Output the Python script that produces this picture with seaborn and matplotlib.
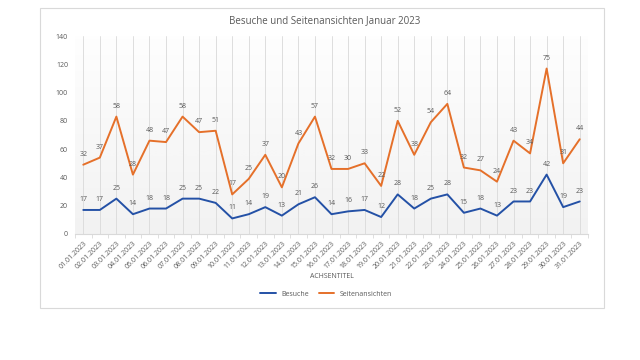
import numpy as np
import pandas as pd
import seaborn as sns
import matplotlib.pyplot as plt
from matplotlib.patches import Rectangle

tage = ['%02d.01.2023' % d for d in range(1, 32)]
besuche = [17, 17, 25, 14, 18, 18, 25, 25, 22, 11, 14, 19, 13, 21, 26, 14,
           16, 17, 12, 28, 18, 25, 28, 15, 18, 13, 23, 23, 42, 19, 23]
seitenansichten = [32, 37, 58, 28, 48, 47, 58, 47, 51, 17, 25, 37, 20, 43, 57, 32,
                   30, 33, 22, 52, 38, 54, 64, 32, 27, 24, 43, 34, 75, 31, 44]

df = pd.DataFrame({'Tag': tage, 'Besuche': besuche, 'Seitenansichten': seitenansichten})
# gestapelte Linie wie im Excel-Diagramm
df['Gestapelt'] = df['Besuche'] + df['Seitenansichten']
df['pos'] = range(len(df))

sns.set_style('white')
plt.rcParams['font.family'] = ['Open Sans', 'DejaVu Sans']

blau = '#2451a6'
orange = '#e5702a'
grau = '#595959'

fig = plt.figure(figsize=(6.4, 3.6), dpi=100)
fig.patches.append(Rectangle((40 / 640, 1 - 308 / 360), 564 / 640, 300 / 360,
                             transform=fig.transFigure, facecolor='white',
                             edgecolor='#d9d9d9', lw=0.8, zorder=-5))
ax = fig.add_axes([75 / 640, 1 - 234 / 360, 513 / 640, 198 / 360])
ax.patch.set_alpha(0)

# Hintergrund-Verlauf
grad = np.linspace(1, 0, 100).reshape(-1, 1)
ax.imshow(grad, extent=(-0.5, 30.5, 0, 140), aspect='auto', cmap='Greys',
          vmin=-0.1, vmax=10, origin='lower', zorder=0)

for i in df['pos']:
    ax.axvline(i, color='#d9d9d9', lw=0.6, zorder=1)

sns.lineplot(data=df, x='pos', y='Besuche', ax=ax, color=blau, lw=1.4,
             label='Besuche', sort=False, zorder=3)
sns.lineplot(data=df, x='pos', y='Gestapelt', ax=ax, color=orange, lw=1.4,
             label='Seitenansichten', sort=False, zorder=3)

for i, row in df.iterrows():
    ax.annotate(str(row['Besuche']), (row['pos'], row['Besuche']), xytext=(0, 5),
                textcoords='offset points', ha='center', va='bottom', fontsize=5, color=grau)
    ax.annotate(str(row['Seitenansichten']), (row['pos'], row['Gestapelt']), xytext=(0, 5),
                textcoords='offset points', ha='center', va='bottom', fontsize=5, color=grau)

ax.set_xlim(-0.5, 30.5)
ax.set_ylim(0, 140)
ax.set_yticks(range(0, 141, 20))
ax.set_xticks(df['pos'])
ax.set_xticks(np.arange(-0.5, 31, 1), minor=True)
ax.set_xticklabels(tage, rotation=45, ha='right', rotation_mode='anchor')
ax.tick_params(axis='x', which='major', labelsize=5, colors=grau, length=0, pad=4)
ax.tick_params(axis='x', which='minor', bottom=True, length=3, width=0.6, color='#d9d9d9')
ax.tick_params(axis='y', labelsize=5, colors=grau, length=0, pad=5)
for s in ['top', 'right', 'left']:
    ax.spines[s].set_visible(False)
ax.spines['bottom'].set_color('#d9d9d9')
ax.set_xlabel('ACHSENTITEL', fontsize=5, color=grau, labelpad=2)
ax.set_ylabel('')

fig.text(325 / 640, 1 - 21 / 360, 'Besuche und Seitenansichten Januar 2023',
         ha='center', va='center', fontsize=7, color=grau)
ax.legend(loc='center', bbox_to_anchor=(0.49, -(294 - 234) / 198), ncol=2,
          frameon=False, fontsize=5, handlelength=2.2, columnspacing=1.5,
          labelcolor=grau)

fig.savefig('out.png', dpi=100)
